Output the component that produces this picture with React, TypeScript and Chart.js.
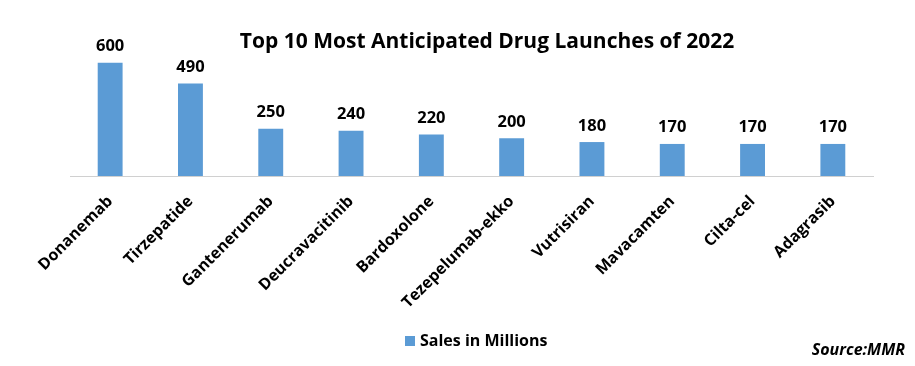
import React, { useEffect, useRef } from "react";
import { Chart, registerables } from "chart.js";

Chart.register(...registerables);

const categories = [
  "Donanemab",
  "Tirzepatide",
  "Gantenerumab",
  "Deucravacitinib",
  "Bardoxolone",
  "Tezepelumab-ekko",
  "Vutrisiran",
  "Mavacamten",
  "Cilta-cel",
  "Adagrasib",
];
const salesInMillions = [600, 490, 250, 240, 220, 200, 180, 170, 170, 170];
const seriesName = "Sales in Millions";
const titleText = "Top 10 Most Anticipated Drug Launches of 2022";
const sourceText = "Source:MMR";

const FONT = "'Open Sans', 'DejaVu Sans', sans-serif";
const BAR_COLOR = "#5B9BD5";

export default function App() {
  const ref = useRef<HTMLCanvasElement | null>(null);

  useEffect(() => {
    document.body.style.margin = "0";
    const canvas = ref.current!;
    const overlay = {
      id: "overlay",
      afterDatasetsDraw(chart: any) {
        const ctx = chart.ctx;
        const meta = chart.getDatasetMeta(0);
        ctx.save();
        ctx.fillStyle = "#000";
        ctx.font = `bold 16.5px ${FONT}`;
        ctx.textAlign = "center";
        ctx.textBaseline = "bottom";
        meta.data.forEach((bar: any, i: number) => {
          ctx.fillText(String(salesInMillions[i]), bar.x, bar.y - 8);
        });
        ctx.restore();
      },
      afterDraw(chart: any) {
        const ctx = chart.ctx;
        ctx.save();
        ctx.fillStyle = "#000";
        ctx.font = `bold 21px ${FONT}`;
        ctx.textAlign = "center";
        ctx.textBaseline = "middle";
        ctx.fillText(titleText, 487, 42);

        ctx.fillStyle = BAR_COLOR;
        ctx.fillRect(405, 336, 10, 10);
        ctx.fillStyle = "#000";
        ctx.font = `bold 16px ${FONT}`;
        ctx.textAlign = "left";
        ctx.fillText(seriesName, 420, 341);

        ctx.font = `italic bold 16px ${FONT}`;
        ctx.textAlign = "right";
        ctx.fillText(sourceText, 905, 350);
        ctx.restore();
      },
    };

    const chart = new Chart(canvas, {
      type: "bar",
      data: {
        labels: categories,
        datasets: [
          {
            label: seriesName,
            data: salesInMillions,
            backgroundColor: BAR_COLOR,
            barPercentage: 0.62,
            categoryPercentage: 0.5,
          },
        ],
      },
      options: {
        animation: false,
        responsive: false,
        maintainAspectRatio: false,
        layout: { padding: { left: 70, right: 42, top: 44, bottom: 10 } },
        plugins: {
          legend: { display: false },
          title: { display: false },
          tooltip: { enabled: false },
        },
        scales: {
          y: { display: false, min: 0, max: 700 },
          x: {
            grid: { display: false, drawTicks: false },
            border: { display: true, color: "#d0d0d0", width: 1 },
            ticks: {
              minRotation: 45,
              maxRotation: 45,
              autoSkip: false,
              padding: 16,
              color: "#000",
              font: { family: FONT, size: 16, weight: "bold" },
            },
            afterFit(scale: any) {
              scale.height = 180;
            },
          },
        },
      },
      plugins: [overlay],
    });
    return () => chart.destroy();
  }, []);

  return (
    <div style={{ position: "absolute", left: 0, top: 0, width: 915, height: 366, background: "#fff" }}>
      <canvas ref={ref} width={915} height={366} style={{ width: 915, height: 366 }} />
    </div>
  );
}
